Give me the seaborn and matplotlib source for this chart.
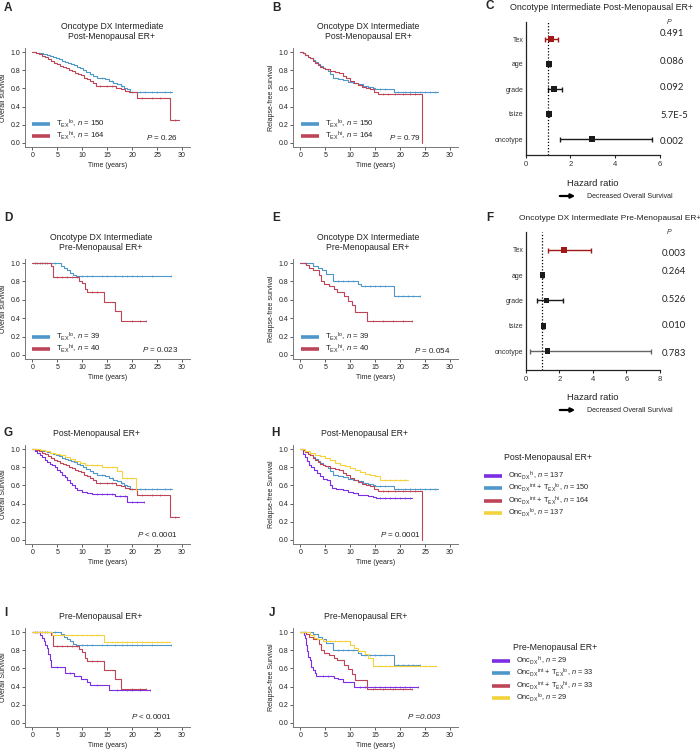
import numpy as np
import pandas as pd
import matplotlib
matplotlib.use('Agg')
import matplotlib.pyplot as plt
import seaborn as sns
from matplotlib.lines import Line2D
from matplotlib.patches import FancyArrowPatch

sns.set_theme(style='ticks')
plt.rcParams['font.family'] = ['Liberation Sans', 'DejaVu Sans']
plt.rcParams['mathtext.fontset'] = 'custom'
plt.rcParams['mathtext.rm'] = 'Liberation Sans'
plt.rcParams['mathtext.it'] = 'Liberation Sans:italic'
plt.rcParams['mathtext.bf'] = 'Liberation Sans:bold'

# ---------------- data ----------------
# Oncotype intermediate, post-menopausal, overall survival (A; reused in G)
A_lo_t = [0, 0.8, 1.5, 2.2, 3.0, 3.6, 4.2, 4.8, 5.4, 6.0, 6.6, 7.2, 7.8, 8.4, 9.0, 9.6, 10.2, 10.8,
          11.5, 12.2, 13.0, 13.8, 14.6, 15.4, 16.2, 17.0, 17.8, 18.4, 19.0, 19.6]
A_lo_s = [1.0, 0.993, 0.987, 0.98, 0.973, 0.96, 0.947, 0.933, 0.92, 0.907, 0.893, 0.88, 0.867, 0.853,
          0.84, 0.82, 0.80, 0.78, 0.76, 0.74, 0.72, 0.71, 0.70, 0.68, 0.66, 0.65, 0.63, 0.61, 0.59, 0.56]
A_lo_end = 28.0
A_lo_cens = [14, 16, 18, 20, 21.5, 22.5, 24, 25, 26.5, 27.5]
A_hi_t = [0, 0.7, 1.4, 2.0, 2.6, 3.2, 3.8, 4.4, 5.0, 5.6, 6.2, 6.8, 7.4, 8.0, 8.6, 9.2, 9.8, 10.4, 11.0,
          11.6, 12.2, 12.8, 16.8, 17.8, 18.6, 19.4, 21.0, 27.5]
A_hi_s = [1.0, 0.99, 0.975, 0.96, 0.945, 0.925, 0.905, 0.885, 0.865, 0.85, 0.835, 0.82, 0.805, 0.79,
          0.775, 0.76, 0.745, 0.72, 0.70, 0.68, 0.66, 0.625, 0.61, 0.59, 0.575, 0.56, 0.50, 0.25]
A_hi_end = 29.3
A_hi_cens = [13.5, 15, 16, 22, 24, 25.5, 28.5]

# relapse-free survival, post-menopausal (B; reused in H)
B_lo_t = [0, 0.5, 1.0, 1.5, 2.0, 2.5, 3.0, 3.5, 4.0, 4.5, 5.0, 5.5, 6.0, 6.5, 7.5, 8.5, 9.5, 10.5,
          11.5, 12.5, 13.5, 14.5, 15.0, 18.7]
B_lo_s = [1.0, 0.985, 0.97, 0.95, 0.93, 0.91, 0.89, 0.87, 0.85, 0.83, 0.81, 0.79, 0.76, 0.72, 0.705,
          0.69, 0.675, 0.66, 0.645, 0.63, 0.615, 0.60, 0.59, 0.56]
B_lo_end = 27.6
B_lo_cens = [16, 17, 19.5, 21, 22, 23, 24, 25, 26, 27]
B_hi_t = [0, 0.5, 1.0, 1.5, 2.0, 2.5, 3.0, 3.5, 4.0, 4.5, 5.0, 6.0, 7.0, 7.8, 8.5, 9.2, 10.0, 10.8,
          11.6, 12.4, 13.2, 14.0, 14.8, 15.6, 24.3]
B_hi_s = [1.0, 0.985, 0.97, 0.95, 0.93, 0.905, 0.88, 0.86, 0.84, 0.82, 0.81, 0.795, 0.785, 0.77, 0.74,
          0.71, 0.68, 0.655, 0.635, 0.62, 0.605, 0.59, 0.565, 0.54, 0.0]
B_hi_end = 24.3
B_hi_cens = [16.5, 17.5, 19, 20.5, 22, 23]

# overall survival, pre-menopausal (D; reused in I)
D_lo_t = [0, 5.8, 6.4, 7.0, 7.6, 8.2, 8.8]
D_lo_s = [1.0, 0.974, 0.949, 0.923, 0.897, 0.872, 0.86]
D_lo_end = 27.8
D_lo_cens = [1, 2, 3, 4.5, 10, 11, 12, 14, 15, 16.5, 18, 19, 20, 21, 22, 24, 27.8]
D_hi_t = [0, 3.7, 4.2, 9.4, 10.0, 10.6, 11.0, 14.4, 16.6, 17.8]
D_hi_s = [1.0, 0.97, 0.845, 0.81, 0.78, 0.72, 0.68, 0.58, 0.48, 0.37]
D_hi_end = 22.7
D_hi_cens = [0.5, 1.5, 2.5, 5, 6, 7, 8, 9, 12, 13, 20, 21.5, 22.7]

# relapse-free survival, pre-menopausal (E; reused in J)
E_lo_t = [0, 2.6, 3.6, 4.4, 5.2, 6.5, 11.6, 12.2, 18.8]
E_lo_s = [1.0, 0.974, 0.947, 0.92, 0.88, 0.80, 0.775, 0.75, 0.64]
E_lo_end = 24.0
E_lo_cens = [1, 7.5, 8.5, 9.5, 10.5, 13, 14, 15, 16, 17, 19.5, 20.5, 21.5, 22.5, 24]
E_hi_t = [0, 1.2, 1.8, 2.6, 3.8, 4.2, 4.8, 5.8, 6.8, 7.4, 8.8, 9.6, 10.3, 10.9, 13.3]
E_hi_s = [1.0, 0.975, 0.95, 0.925, 0.87, 0.80, 0.775, 0.75, 0.72, 0.69, 0.64, 0.59, 0.54, 0.47, 0.37]
E_hi_end = 22.3
E_hi_cens = [14.5, 16.5, 18.5, 20.5, 22.3]

# Oncotype high / low groups
G_onchi_t = [0, 0.5, 1.0, 1.5, 2.0, 2.5, 3.0, 3.5, 4.0, 4.5, 5.0, 5.5, 6.0, 6.5, 7.0, 7.5, 8.0, 8.5,
             9.0, 10.0, 11.0, 12.0, 16.5, 19.0]
G_onchi_s = [1.0, 0.98, 0.96, 0.935, 0.91, 0.885, 0.86, 0.84, 0.82, 0.80, 0.77, 0.745, 0.72, 0.69,
             0.66, 0.63, 0.60, 0.575, 0.55, 0.53, 0.515, 0.505, 0.48, 0.42]
G_onchi_end = 22.3
G_onchi_cens = [13, 14, 15, 16, 17.5, 18.5, 20, 21, 22.3]
G_onclo_t = [0, 1.5, 2.5, 3.5, 4.5, 5.5, 6.5, 7.5, 8.5, 9.5, 10.5, 14.0, 17.0, 18.0, 20.7]
G_onclo_s = [1.0, 0.99, 0.98, 0.96, 0.945, 0.93, 0.91, 0.89, 0.87, 0.85, 0.825, 0.80, 0.755, 0.68, 0.55]
G_onclo_end = 21.0
G_onclo_cens = [11, 12, 13, 15, 16, 19, 20]

H_onchi_t = [0, 0.6, 1.0, 1.4, 1.8, 2.2, 2.8, 3.4, 4.0, 4.6, 5.4, 6.0, 6.4, 7.2, 8.5, 9.5, 10.5, 11.5,
             12.5, 13.5, 14.5, 15.2]
H_onchi_s = [1.0, 0.95, 0.91, 0.87, 0.83, 0.80, 0.77, 0.735, 0.70, 0.675, 0.66, 0.61, 0.575, 0.56,
             0.545, 0.53, 0.515, 0.50, 0.49, 0.48, 0.47, 0.46]
H_onchi_end = 22.3
H_onchi_cens = [16, 17, 18, 19, 20, 21, 22]
H_onclo_t = [0, 1, 2, 3, 4, 5, 6, 7, 8, 9, 10, 11, 12, 13, 14, 15, 16]
H_onclo_s = [1.0, 0.98, 0.96, 0.94, 0.92, 0.90, 0.875, 0.85, 0.825, 0.81, 0.79, 0.77, 0.75, 0.73,
             0.71, 0.70, 0.66]
H_onclo_end = 21.5
H_onclo_cens = [17, 18, 19, 20, 21]

I_onchi_t = [0, 1.5, 2.0, 2.3, 2.6, 2.9, 3.2, 3.5, 3.8, 6.5, 8.4, 9.8, 11.0, 11.5, 15.4]
I_onchi_s = [1.0, 0.966, 0.931, 0.897, 0.862, 0.828, 0.759, 0.69, 0.62, 0.55, 0.515, 0.48, 0.45, 0.42, 0.36]
I_onchi_end = 23.5
I_onchi_cens = [5, 7.5, 13, 17, 19, 20, 21.5, 23.5]
I_onclo_t = [0, 4.0, 14.3]
I_onclo_s = [1.0, 0.965, 0.89]
I_onclo_end = 27.5
I_onclo_cens = [1, 2, 3, 6, 8, 9, 10, 11, 12, 13, 16, 17, 18, 19, 20, 21, 22, 23, 24, 25, 26, 27]

J_onchi_t = [0, 0.7, 1.0, 1.2, 1.4, 1.6, 1.9, 2.2, 2.6, 2.9, 3.2, 6.8, 7.6, 8.6, 10.8]
J_onchi_s = [1.0, 0.966, 0.931, 0.862, 0.793, 0.724, 0.69, 0.62, 0.586, 0.552, 0.517, 0.50, 0.48, 0.45, 0.40]
J_onchi_end = 23.6
J_onchi_cens = [4.5, 5.5, 12, 13, 15, 16, 17, 18, 19, 20, 21, 22, 23.6]
J_onclo_t = [0, 2.0, 2.8, 3.4, 4.6, 10.0, 10.8, 11.6, 13.0, 13.6, 14.5]
J_onclo_s = [1.0, 0.966, 0.931, 0.92, 0.897, 0.862, 0.828, 0.793, 0.759, 0.72, 0.63]
J_onclo_end = 27.2
J_onclo_cens = [6, 7, 8, 9, 16, 17, 18, 19, 20, 21, 22, 23, 24, 25, 26, 27.2]

# forest plots
forest_vars = ['Tex', 'age', 'grade', 'tsize', 'oncotype']
C_hr = [1.13, 1.04, 1.26, 1.04, 2.95]
C_lo = [0.86, 1.01, 0.98, 1.02, 1.53]
C_hi = [1.43, 1.07, 1.61, 1.06, 5.65]
C_p = ['0.491', '0.086', '0.092', '5.7E-5', '0.002']
F_hr = [2.28, 0.99, 1.25, 1.05, 1.31]
F_lo = [1.35, 0.97, 0.69, 1.02, 0.26]
F_hi = [3.89, 1.01, 2.24, 1.08, 7.44]
F_p = ['0.003', '0.264', '0.526', '0.010', '0.783']

time_ticks = [0, 5, 10, 15, 20, 25, 30]
surv_ticks = [0.0, 0.2, 0.4, 0.6, 0.8, 1.0]

# ---------------- styling ----------------
C_BLUE = '#4d97cb'
C_RED = '#bd4557'
C_PURPLE = '#7b2ee2'
C_YEL = '#f3d23c'
C_DRED = '#a01818'

W, H = 700, 749
fig = plt.figure(figsize=(7, 7.49), dpi=100)


def add_ax(l, t, r, b):
    return fig.add_axes([l / W, 1 - b / H, (r - l) / W, (b - t) / H])


def ftext(x, y, s, **kw):
    return fig.text(x / W, 1 - y / H, s, **kw)


def fline(x0, x1, y, color, lw=2.6):
    fig.add_artist(Line2D([x0 / W, x1 / W], [1 - y / H, 1 - y / H], color=color, lw=lw,
                          solid_capstyle='butt', transform=fig.transFigure))


def step_at(t, s, x):
    idx = np.searchsorted(np.asarray(t), np.asarray(x), side='right') - 1
    return np.asarray(s)[idx]


def draw_km(ax, t, s, end, cens, color):
    df = pd.DataFrame({'t': list(t) + [end], 's': list(s) + [s[-1]]})
    sns.lineplot(data=df, x='t', y='s', ax=ax, color=color, lw=0.8,
                 drawstyle='steps-post', estimator=None, sort=False)
    ax.plot(cens, step_at(t, s, cens), ls='none', marker='|', ms=1.6, mew=0.45, color=color)


def style_km(ax, ylabel, title, tx, ptext, px, py, pitalic=False):
    ax.set_xlim(-1.5, 31.6)
    ax.set_ylim(-0.045, 1.045)
    ax.set_xticks(time_ticks)
    ax.set_yticks(surv_ticks)
    ax.set_yticklabels([f'{v:.1f}' for v in surv_ticks])
    ax.tick_params(labelsize=5, length=2, width=0.6, pad=1.5, colors='#444', labelcolor='#222')
    for sp in ['top', 'right']:
        ax.spines[sp].set_visible(False)
    for sp in ['left', 'bottom']:
        ax.spines[sp].set_color('#777')
        ax.spines[sp].set_linewidth(0.7)
    ax.set_xlabel('Time (years)', fontsize=5, labelpad=2, color='#222')
    ax.set_ylabel(ylabel, fontsize=5, labelpad=2.5, color='#222')
    ax.set_title(title, fontsize=6.2, pad=6.5, color='#222', linespacing=1.15, x=tx)
    ax.text(px, py, ptext, fontsize=5.8, ha='right', va='center', color='#222',
            style='italic' if pitalic else 'normal')


def tex_legend(x0, ya, yb, n_lo, n_hi):
    labels = [r'T$_{\mathrm{EX}}{}^{\mathrm{lo}}$, $n$ = ' + str(n_lo),
              r'T$_{\mathrm{EX}}{}^{\mathrm{hi}}$, $n$ = ' + str(n_hi)]
    for c, lab, y in zip([C_BLUE, C_RED], labels, [ya, yb]):
        fline(x0, x0 + 18, y, c)
        ftext(x0 + 24, y, lab, fontsize=5.6, ha='left', va='center', color='#222')


def letter(x, y, s):
    ftext(x, y, s, fontsize=8.5, fontweight='bold', va='center', ha='left')


T_POST = 'Oncotype DX Intermediate\nPost-Menopausal ER+'
T_PRE = 'Oncotype DX Intermediate\nPre-Menopausal ER+'

# ---- A ----
ax = add_ax(25, 48, 190, 147)
draw_km(ax, A_lo_t, A_lo_s, A_lo_end, A_lo_cens, C_BLUE)
draw_km(ax, A_hi_t, A_hi_s, A_hi_end, A_hi_cens, C_RED)
style_km(ax, 'Overall survival', T_POST, 0.527, r'$P$ = 0.26', 29.2, 0.065)
tex_legend(32, 124, 136, 150, 164)
letter(4, 8, 'A')

# ---- B ----
ax = add_ax(293, 48, 458, 147)
draw_km(ax, B_lo_t, B_lo_s, B_lo_end, B_lo_cens, C_BLUE)
draw_km(ax, B_hi_t, B_hi_s, B_hi_end, B_hi_cens, C_RED)
style_km(ax, 'Relapse-free survival', T_POST, 0.455, r'$P$ = 0.79', 24.2, 0.065)
tex_legend(301, 124, 136, 150, 164)
letter(272, 8, 'B')

# ---- D ----
ax = add_ax(25, 259, 190, 359)
draw_km(ax, D_lo_t, D_lo_s, D_lo_end, D_lo_cens, C_BLUE)
draw_km(ax, D_hi_t, D_hi_s, D_hi_end, D_hi_cens, C_RED)
style_km(ax, 'Overall survival', T_PRE, 0.46, r'$P$ = 0.023', 29.2, 0.055)
tex_legend(32, 337, 349, 39, 40)
letter(4, 218, 'D')

# ---- E ----
ax = add_ax(293, 259, 458, 359)
draw_km(ax, E_lo_t, E_lo_s, E_lo_end, E_lo_cens, C_BLUE)
draw_km(ax, E_hi_t, E_hi_s, E_hi_end, E_hi_cens, C_RED)
style_km(ax, 'Relapse-free survival', T_PRE, 0.455, r'$P$ = 0.054', 30.0, 0.05)
tex_legend(301, 337, 349, 39, 40)
letter(272, 218, 'E')

# ---- G ----
ax = add_ax(25, 445, 190, 544)
draw_km(ax, G_onchi_t, G_onchi_s, G_onchi_end, G_onchi_cens, C_PURPLE)
draw_km(ax, A_lo_t, A_lo_s, A_lo_end, A_lo_cens, C_BLUE)
draw_km(ax, A_hi_t, A_hi_s, A_hi_end, A_hi_cens, C_RED)
draw_km(ax, G_onclo_t, G_onclo_s, G_onclo_end, G_onclo_cens, C_YEL)
style_km(ax, 'Overall Survival', 'Post-Menopausal ER+', 0.436, r'$P$ < 0.0001', 29.2, 0.06)
letter(4, 433, 'G')

# ---- H ----
ax = add_ax(293, 445, 458, 544)
draw_km(ax, H_onchi_t, H_onchi_s, H_onchi_end, H_onchi_cens, C_PURPLE)
draw_km(ax, B_lo_t, B_lo_s, B_lo_end, B_lo_cens, C_BLUE)
draw_km(ax, B_hi_t, B_hi_s, B_hi_end, B_hi_cens, C_RED)
draw_km(ax, H_onclo_t, H_onclo_s, H_onclo_end, H_onclo_cens, C_YEL)
style_km(ax, 'Relapse-free Survival', 'Post-Menopausal ER+', 0.436, r'$P$ = 0.0001', 24.0, 0.055)
letter(271, 433, 'H')

# ---- I ----
ax = add_ax(25, 628, 190, 727)
draw_km(ax, I_onchi_t, I_onchi_s, I_onchi_end, I_onchi_cens, C_PURPLE)
draw_km(ax, D_lo_t, D_lo_s, D_lo_end, D_lo_cens, C_BLUE)
draw_km(ax, D_hi_t, D_hi_s, D_hi_end, D_hi_cens, C_RED)
draw_km(ax, I_onclo_t, I_onclo_s, I_onclo_end, I_onclo_cens, C_YEL)
style_km(ax, 'Overall Survival', 'Pre-Menopausal ER+', 0.46, r'$P$ < 0.0001', 27.9, 0.066)
letter(4, 613, 'I')

# ---- J ----
ax = add_ax(293, 628, 458, 727)
draw_km(ax, J_onchi_t, J_onchi_s, J_onchi_end, J_onchi_cens, C_PURPLE)
draw_km(ax, E_lo_t, E_lo_s, E_lo_end, E_lo_cens, C_BLUE)
draw_km(ax, E_hi_t, E_hi_s, E_hi_end, E_hi_cens, C_RED)
draw_km(ax, J_onclo_t, J_onclo_s, J_onclo_end, J_onclo_cens, C_YEL)
style_km(ax, 'Relapse-free Survival', 'Pre-Menopausal ER+', 0.442, 'P =0.003', 28.0, 0.055, pitalic=True)
letter(269, 613, 'J')


# ---- group legends ----
def group_legend(title, ns, x0, tx, ty, rows):
    labels = [r'Onc$_{\mathrm{DX}}{}^{\mathrm{hi}}$, $n$ = ' + str(ns[0]),
              r'Onc$_{\mathrm{DX}}{}^{\mathrm{int}}$ + T$_{\mathrm{EX}}{}^{\mathrm{lo}}$, $n$ = ' + str(ns[1]),
              r'Onc$_{\mathrm{DX}}{}^{\mathrm{int}}$ + T$_{\mathrm{EX}}{}^{\mathrm{hi}}$, $n$ = ' + str(ns[2]),
              r'Onc$_{\mathrm{DX}}{}^{\mathrm{lo}}$, $n$ = ' + str(ns[3])]
    ftext(tx, ty, title, fontsize=6.3, ha='center', va='center', color='#222')
    for c, lab, y in zip([C_PURPLE, C_BLUE, C_RED, C_YEL], labels, rows):
        fline(x0, x0 + 18, y, c)
        ftext(x0 + 24, y, lab, fontsize=5.3, ha='left', va='center', color='#222')


group_legend('Post-Menopausal ER+', [137, 150, 164, 137], 484, 548, 458, [476, 488, 501, 513])
group_legend('Pre-Menopausal ER+', [29, 33, 33, 29], 492, 555, 647, [661, 673, 686, 698])


# ---- forest plots ----
def forest(ax, hr, lo, hi, bar_colors, mk_colors, xmax, ylim):
    yy = np.arange(len(forest_vars))
    for i in range(len(hr)):
        ax.errorbar(hr[i], yy[i], xerr=[[hr[i] - lo[i]], [hi[i] - hr[i]]], fmt='none',
                    ecolor=bar_colors[i], elinewidth=1.0, capsize=1.8, capthick=1.0)
    df = pd.DataFrame({'hr': hr, 'y': yy, 'var': forest_vars})
    sns.scatterplot(data=df, x='hr', y='y', hue='var', palette=dict(zip(forest_vars, mk_colors)),
                    marker='s', s=16, linewidth=0, legend=False, ax=ax, zorder=3)
    ax.axvline(1, color='black', ls=(0, (1, 1.5)), lw=0.9)
    ax.set_xlim(0, xmax)
    ax.set_ylim(*ylim)
    ax.set_xticks(range(0, xmax + 1, 2))
    ax.set_yticks(yy)
    ax.set_yticklabels(forest_vars)
    ax.tick_params(axis='y', length=0, pad=1.5, labelsize=5, labelcolor='#333')
    ax.tick_params(axis='x', length=2.5, width=0.8, pad=2, labelsize=5.5, labelcolor='#333')
    for sp in ['top', 'right']:
        ax.spines[sp].set_visible(False)
    for sp in ['left', 'bottom']:
        ax.spines[sp].set_color('#222')
        ax.spines[sp].set_linewidth(0.9)
    ax.set_xlabel('')
    ax.set_ylabel('')


def arrow_note(y):
    fig.add_artist(FancyArrowPatch((557 / W, 1 - y / H), (578 / W, 1 - y / H),
                                   transform=fig.transFigure, arrowstyle='-|>', mutation_scale=6,
                                   lw=1.6, color='black'))
    ftext(587, y, 'Decreased Overall Survival', fontsize=5, ha='left', va='center', color='#222')


axc = add_ax(525.7, 22, 660, 155)
forest(axc, C_hr, C_lo, C_hi, [C_DRED, 'k', 'k', 'k', 'k'], [C_DRED, 'k', 'k', 'k', 'k'], 6, (4.64, -0.68))
ftext(601, 7, 'Oncotype Intermediate Post-Menopausal ER+', fontsize=6.4, ha='center', va='center', color='#222')
letter(486, 6, 'C')
ftext(669, 22, 'P', fontsize=5, style='italic', ha='center', va='center', color='#333')
for p, y in zip(C_p, [33, 62, 88, 115, 142]):
    ftext(660, y, p, fontsize=6.8, family=['Lato', 'DejaVu Sans'], ha='left', va='center', color='#222')
ftext(593, 183, 'Hazard ratio', fontsize=6.8, ha='center', va='center', color='#222')
arrow_note(196)

axf = add_ax(525.7, 232, 660, 370)
forest(axf, F_hr, F_lo, F_hi, [C_DRED, 'k', 'k', 'k', '#666666'], [C_DRED, 'k', 'k', 'k', 'k'], 8, (4.75, -0.71))
ftext(610, 218, 'Oncotype DX Intermediate Pre-Menopausal ER+', fontsize=6, ha='center', va='center', color='#222')
letter(486, 218, 'F')
ftext(669, 232, 'P', fontsize=5, style='italic', ha='center', va='center', color='#333')
for p, y in zip(F_p, [253, 272, 299, 326, 354]):
    ftext(662, y, p, fontsize=6.8, family=['Lato', 'DejaVu Sans'], ha='left', va='center', color='#222')
ftext(593, 397, 'Hazard ratio', fontsize=6.8, ha='center', va='center', color='#222')
arrow_note(410)

fig.savefig('out.png', dpi=100)
